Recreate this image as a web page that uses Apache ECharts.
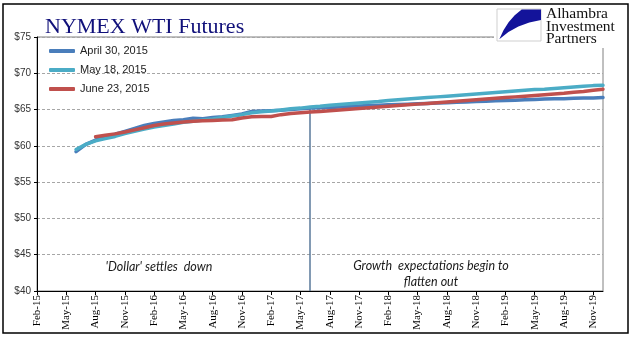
<!DOCTYPE html>
<html><head><meta charset="utf-8">
<script src="https://cdn.jsdelivr.net/npm/echarts@6/dist/echarts.min.js"></script>
<style>html,body{margin:0;padding:0;background:#fff}#c{width:641px;height:341px}</style>
</head><body><div id="c"></div>
<script>
var months = ['Feb-15','Mar-15','Apr-15','May-15','Jun-15','Jul-15','Aug-15','Sep-15','Oct-15','Nov-15','Dec-15',
'Jan-16','Feb-16','Mar-16','Apr-16','May-16','Jun-16','Jul-16','Aug-16','Sep-16','Oct-16','Nov-16','Dec-16',
'Jan-17','Feb-17','Mar-17','Apr-17','May-17','Jun-17','Jul-17','Aug-17','Sep-17','Oct-17','Nov-17','Dec-17',
'Jan-18','Feb-18','Mar-18','Apr-18','May-18','Jun-18','Jul-18','Aug-18','Sep-18','Oct-18','Nov-18','Dec-18',
'Jan-19','Feb-19','Mar-19','Apr-19','May-19','Jun-19','Jul-19','Aug-19','Sep-19','Oct-19','Nov-19','Dec-19'];

var seriesNames = ['April 30, 2015','May 18, 2015','June 23, 2015'];

var apr30 = [null,null,null,null,
59.2,60.2,60.8,61.2,61.6,62.0,62.4,62.8,63.1,63.3,63.5,63.6,63.8,63.75,63.9,64.0,64.2,64.4,64.75,64.8,64.85,64.9,65.0,65.1,65.2,65.25,65.3,65.35,65.45,65.5,65.55,65.6,65.65,65.7,65.75,65.8,65.85,65.9,65.95,66.0,66.05,66.1,66.15,66.2,66.25,66.3,66.35,66.4,66.45,66.5,66.5,66.55,66.6,66.6,66.65];

var may18 = [null,null,null,null,
59.5,60.2,60.7,61.0,61.3,61.7,62.0,62.3,62.6,62.8,63.0,63.25,63.4,63.55,63.7,63.9,64.1,64.3,64.55,64.7,64.8,64.95,65.1,65.2,65.35,65.45,65.6,65.7,65.8,65.9,66.0,66.1,66.25,66.35,66.45,66.55,66.65,66.75,66.85,66.95,67.05,67.15,67.25,67.35,67.45,67.55,67.65,67.75,67.8,67.9,68.0,68.1,68.2,68.3,68.35];

var jun23 = [null,null,null,null,null,null,
61.25,61.45,61.65,61.9,62.2,62.5,62.8,63.0,63.15,63.3,63.4,63.45,63.5,63.55,63.6,63.85,64.0,64.05,64.05,64.3,64.45,64.55,64.65,64.75,64.85,64.95,65.05,65.15,65.25,65.35,65.45,65.55,65.65,65.75,65.85,65.95,66.05,66.15,66.25,66.35,66.45,66.55,66.65,66.75,66.85,66.95,67.05,67.15,67.25,67.4,67.5,67.65,67.8];

var yTicks = [40,45,50,55,60,65,70,75];
var markMonth = 'Jun-17';
var markTop = 65.4;

var chart = echarts.init(document.getElementById('c'), null, {renderer:'canvas'});
function lineSeries(name, data, color) {
  return {
    name: name, type: 'line', data: data, symbol: 'none', showSymbol: false,
    lineStyle: {color: color, width: 3.5, cap: 'round', join: 'round'},
    itemStyle: {color: color}, animation: false, connectNulls: false
  };
}
var s1 = lineSeries(seriesNames[0], apr30, '#4a7ebb');
s1.markLine = {
  silent: true, symbol: 'none', animation: false, z: 1,
  lineStyle: {color: '#58799a', width: 1.5, type: 'solid'},
  label: {show: false},
  data: [[{coord: [markMonth, markTop]}, {coord: [markMonth, yTicks[0]]}]]
};
var s2 = lineSeries(seriesNames[1], may18, '#4bacc6');
var s3 = lineSeries(seriesNames[2], jun23, '#c0504d');

chart.setOption({
  animation: false,
  backgroundColor: '#ffffff',
  grid: {left: 37, top: 37, right: 38, bottom: 50, show: true, borderColor: '#808080', borderWidth: 1},
  legend: {
    orient: 'vertical', left: 49, top: 44, padding: 0, itemWidth: 26, itemHeight: 4, itemGap: 5,
    icon: 'roundRect',
    data: seriesNames,
    textStyle: {fontFamily: 'Liberation Sans', fontSize: 11, color: '#222', lineHeight: 14}
  },
  xAxis: {
    type: 'category', data: months, boundaryGap: false,
    axisLine: {lineStyle: {color: '#000', width: 1}},
    axisTick: {show: true, length: 4, lineStyle: {color: '#000'}, interval: function(i){return i % 3 === 0;}},
    axisLabel: {interval: function(i){return i % 3 === 0;}, rotate: 90, margin: 4,
      fontFamily: 'Liberation Serif', fontSize: 11, color: '#000'},
    splitLine: {show: false}
  },
  yAxis: {
    type: 'value', min: 40, max: 75, interval: 5,
    axisLine: {show: true, lineStyle: {color: '#000', width: 1}},
    axisTick: {show: true, length: 3, lineStyle: {color: '#000'}},
    axisLabel: {formatter: function(v){return '$' + v;}, fontFamily: 'Liberation Sans', fontSize: 10, color: '#333', margin: 6},
    splitLine: {show: true, lineStyle: {color: '#a6a6a6', type: [3, 2], width: 1}}
  },
  series: [s1, s2, s3],
  graphic: [
    {type: 'rect', shape: {x: 3, y: 4, width: 625, height: 329}, style: {fill: null, stroke: '#000', lineWidth: 1.5}, z: 100, silent: true},
    {type: 'text', x: 45, y: 27, style: {text: 'NYMEX WTI Futures', font: '22px "Liberation Serif"', fill: '#10107a', verticalAlign: 'middle', align: 'left'}, z: 100},
    {type: 'rect', shape: {x: 494, y: 6, width: 130, height: 42}, style: {fill: '#fff'}, z: 99},
    {type: 'rect', shape: {x: 497, y: 9, width: 44, height: 32}, style: {fill: '#fff', stroke: '#cfcfcf', lineWidth: 1}, z: 100},
    {type: 'polygon', shape: {points: [[521.7,9.5],[541,9.5],[541,20],[529.3,22.5],[518.4,26.5],[508.4,32.1],[499.3,39.3],[503.5,30.2],[508.6,22.2],[514.7,15.3]]}, style: {fill: '#13139a'}, z: 101},
    {type: 'text', x: 546, y: 8, style: {text: 'Alhambra\nInvestment\nPartners', font: '15.5px "Liberation Serif"', fill: '#111', lineHeight: 12.5, align: 'left', verticalAlign: 'top'}, z: 101},
    {type: 'text', x: 159, y: 267, style: {text: "'Dollar' settles  down", font: 'italic 12.5px Lato', fill: '#1a1a1a', align: 'center', verticalAlign: 'middle'}, z: 100},
    {type: 'text', x: 431, y: 266, style: {text: 'Growth  expectations begin to', font: 'italic 12.5px Lato', fill: '#1a1a1a', align: 'center', verticalAlign: 'middle'}, z: 100},
    {type: 'text', x: 431, y: 282, style: {text: 'flatten out', font: 'italic 12.5px Lato', fill: '#1a1a1a', align: 'center', verticalAlign: 'middle'}, z: 100}
  ]
});
</script>
</body></html>
